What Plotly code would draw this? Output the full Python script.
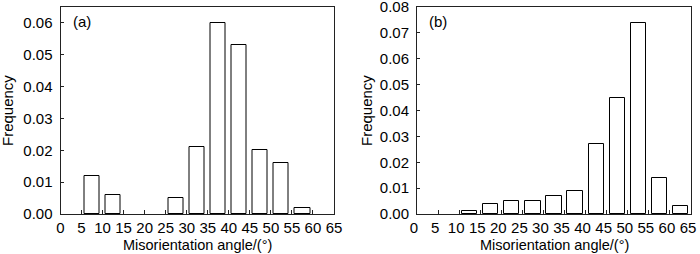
import plotly.graph_objects as go

# Data: bin centers (degrees) and frequencies
bin_centers = [2.5, 7.5, 12.5, 17.5, 22.5, 27.5, 32.5, 37.5, 42.5, 47.5, 52.5, 57.5, 62.5]
freq_a = [0.0, 0.012, 0.006, 0.0, 0.0, 0.005, 0.021, 0.060, 0.053, 0.020, 0.016, 0.002, 0.0]
freq_b = [0.0, 0.0, 0.001, 0.004, 0.005, 0.005, 0.007, 0.009, 0.027, 0.045, 0.074, 0.014, 0.003]
x_ticks = list(range(0, 70, 5))
y_ticks_a = [0.0, 0.01, 0.02, 0.03, 0.04, 0.05, 0.06]
y_ticks_b = [0.0, 0.01, 0.02, 0.03, 0.04, 0.05, 0.06, 0.07, 0.08]
panel_labels = ["(a)", "(b)"]
x_title = "Misorientation angle/(°)"
y_title = "Frequency"

W, H = 700, 254
FONT = "Liberation Sans, Arial, sans-serif"

def px_x(p):
    return p / W

def px_y(p):
    return 1 - p / H

fig = go.Figure()

def nz(xs, ys):
    pairs = [(x, y) for x, y in zip(xs, ys) if y > 0]
    return [p[0] for p in pairs], [p[1] for p in pairs]

xa, ya = nz(bin_centers, freq_a)
xb, yb = nz(bin_centers, freq_b)

bar_style = dict(marker=dict(color="white", line=dict(color="black", width=1)), width=3.6,
                 showlegend=False, hoverinfo="x+y")
fig.add_trace(go.Bar(x=xa, y=ya, xaxis="x", yaxis="y", **bar_style))
fig.add_trace(go.Bar(x=xb, y=yb, xaxis="x2", yaxis="y2", **bar_style))

top, bottom = 7, 214
left_a, right_a = 60.5, 334
left_b, right_b = 417, 691

axis_common = dict(showline=True, linecolor="#222", linewidth=1, mirror=True, automargin=False,
                   ticks="inside", showgrid=False, zeroline=False, ticklabeloverflow="allow",
                   tickfont=dict(family=FONT, size=15, color="black"), tickcolor="#222")

fig.update_layout(
    width=W, height=H,
    margin=dict(l=0, r=0, t=0, b=0),
    paper_bgcolor="white", plot_bgcolor="white",
    bargap=0,
    xaxis=dict(domain=[px_x(left_a), px_x(right_a)], range=[0, 65], tickvals=x_ticks,
               ticklen=4, anchor="y", ticklabelstandoff=0, **axis_common),
    yaxis=dict(domain=[px_y(bottom), px_y(top)], range=[0, 0.065], tickvals=y_ticks_a, tickformat=".2f",
               ticklen=3, anchor="x", ticklabelstandoff=4, **axis_common),
    xaxis2=dict(domain=[px_x(left_b), px_x(right_b)], range=[0, 65], tickvals=x_ticks,
                ticklen=4, anchor="y2", ticklabelstandoff=0, ticklabelshift=-3, **axis_common),
    yaxis2=dict(domain=[px_y(bottom), px_y(top)], range=[0, 0.08], tickvals=y_ticks_b, tickformat=".2f",
                ticklen=3, anchor="x2", ticklabelstandoff=4, **axis_common),
)

annotations = []
for lbl, xl, xr, xf in [(panel_labels[0], left_a, right_a, 7), (panel_labels[1], left_b, right_b, 366)]:
    annotations.append(dict(text=lbl, xref="paper", yref="paper", x=px_x(xl + 10), y=px_y(22),
                            xanchor="left", yanchor="middle", showarrow=False,
                            font=dict(family=FONT, size=15, color="black")))
    annotations.append(dict(text=x_title, xref="paper", yref="paper", x=px_x((xl + xr) / 2), y=px_y(254),
                            xanchor="center", yanchor="bottom", showarrow=False, borderpad=0,
                            font=dict(family=FONT, size=14.5, color="black")))
    annotations.append(dict(text=y_title, xref="paper", yref="paper", x=px_x(xf), y=px_y(111),
                            xanchor="center", yanchor="middle", showarrow=False, textangle=-90,
                            font=dict(family=FONT, size=15, color="black")))
fig.update_layout(annotations=annotations)

fig.write_html("out.html", config={"displayModeBar": False},
               post_script="document.body.style.margin='0';document.body.style.overflow='hidden';")
